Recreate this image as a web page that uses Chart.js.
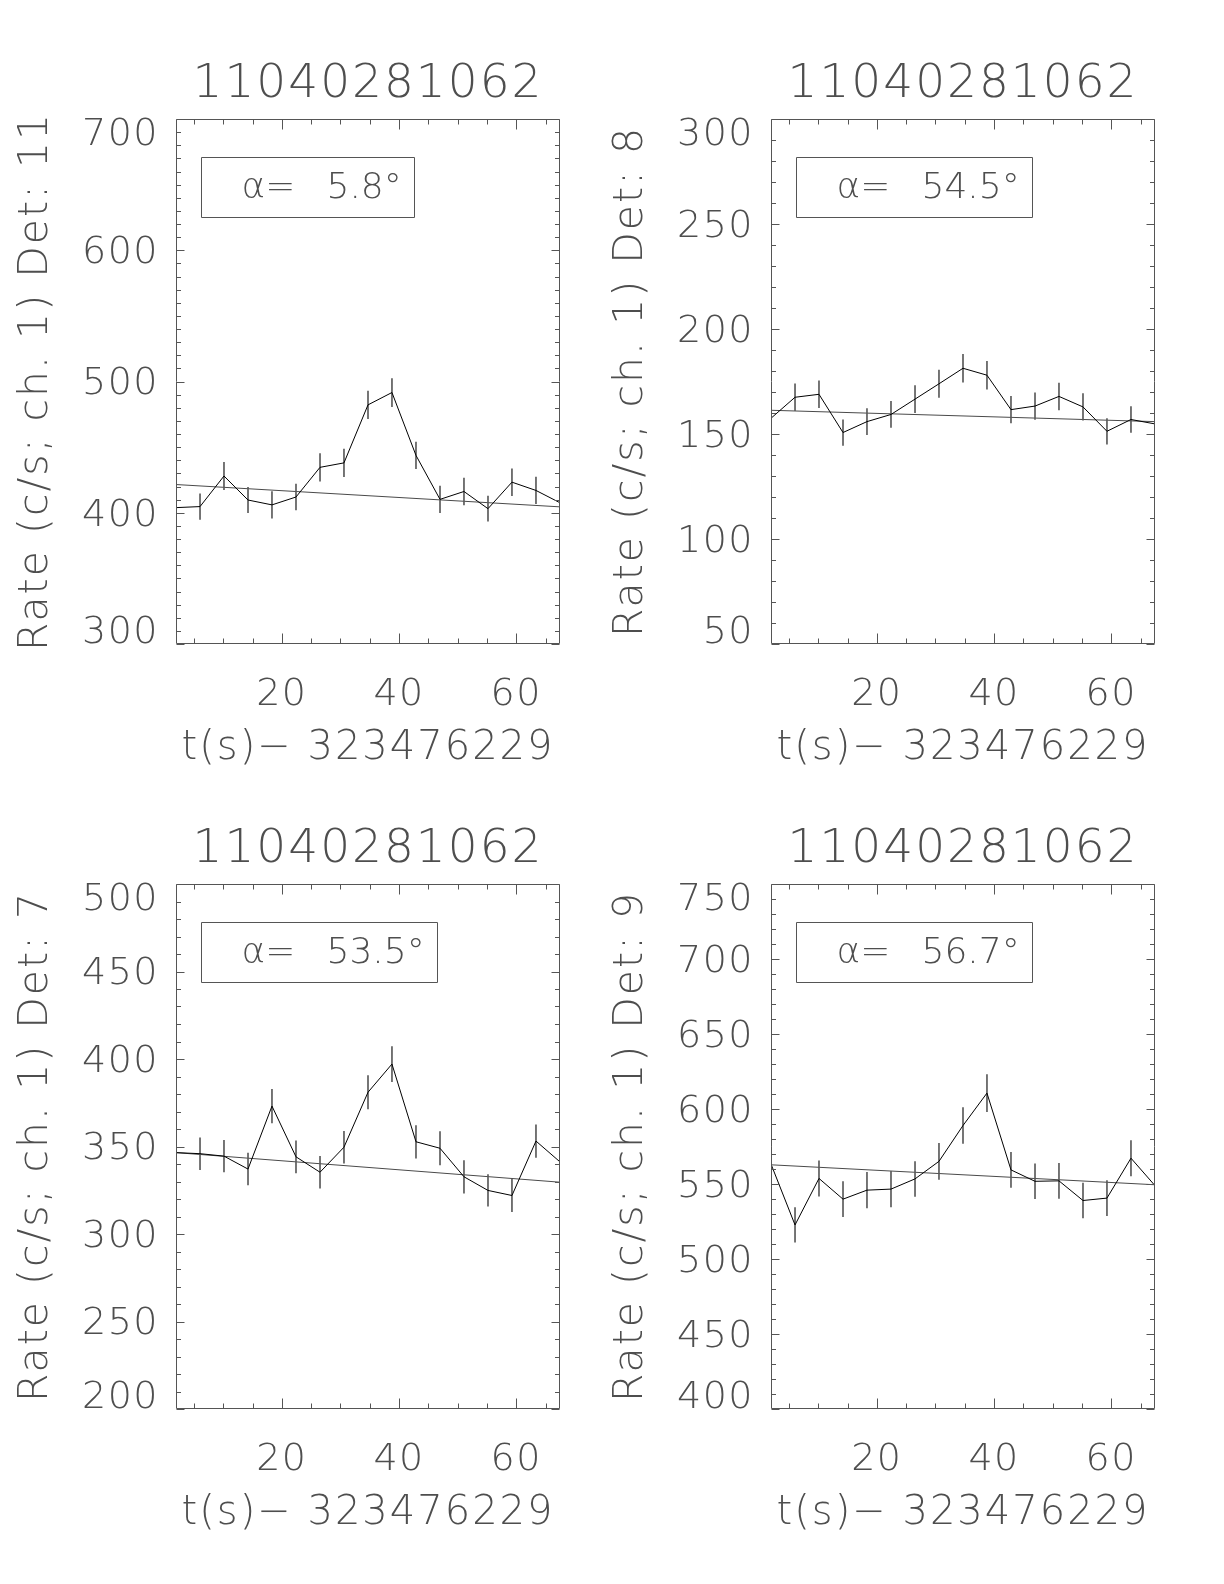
<!DOCTYPE html>
<html>
<head>
<meta charset="utf-8">
<script src="https://cdn.jsdelivr.net/npm/chart.js@4.4.1/dist/chart.umd.min.js"></script>
<style>
  html, body { margin: 0; padding: 0; background: #ffffff; }
  #page { position: relative; width: 1224px; height: 1584px; overflow: hidden; background: #ffffff; }
  canvas { position: absolute; }
</style>
</head>
<body>
<div id="page">
  <canvas id="c1" width="600" height="780" style="left:0px;top:0px"></canvas>
  <canvas id="c2" width="600" height="780" style="left:595px;top:0px"></canvas>
  <canvas id="c3" width="600" height="780" style="left:0px;top:765px"></canvas>
  <canvas id="c4" width="600" height="780" style="left:595px;top:765px"></canvas>
</div>
<script>
// ---------------- data ----------------
const chartTitle = '11040281062';
const xAxisTitle = 't(s)\u2212 323476229';
const xRange = [1.93, 67.47];
const timeOffsets = [1.93, 6.03, 10.12, 14.22, 18.31, 22.41, 26.51, 30.60, 34.70,
                     38.79, 42.89, 46.99, 51.08, 55.18, 59.27, 63.37, 67.47];

// Det 11 (top left)
const rateDet11 = [403.9, 404.7, 428.0, 409.7, 406.0, 412.0, 434.6, 438.0, 482.2,
                   491.6, 443.7, 410.2, 416.2, 403.1, 423.3, 417.0, 407.6];
const errDet11  = [9.9, 9.8, 10.5, 9.7, 10.2, 9.8, 10.5, 10.6, 10.5,
                   10.7, 10.1, 10.1, 10.2, 9.6, 10.2, 10.1, 9.9];
const fitDet11  = [421.5, 404.5];

// Det 8 (top right)
const rateDet8 = [157.5, 167.5, 168.9, 150.7, 155.9, 159.3, 166.6, 173.9, 181.3,
                  178.0, 161.6, 163.3, 167.9, 162.9, 151.3, 156.9, 154.8];
const errDet8  = [6.2, 6.4, 6.4, 6.1, 6.2, 6.2, 6.4, 6.5, 6.6,
                  6.6, 6.3, 6.3, 6.4, 6.3, 6.1, 6.2, 6.1];
const fitDet8  = [161.3, 155.9];

// Det 7 (bottom left)
const rateDet7 = [346.5, 345.9, 344.5, 337.1, 373.1, 344.1, 335.3, 349.6, 381.0,
                  397.1, 352.7, 349.0, 332.7, 324.9, 322.0, 353.1, 341.2];
const errDet7  = [9.2, 9.1, 9.0, 9.1, 9.6, 9.2, 9.1, 9.1, 9.5,
                  10.0, 9.3, 9.5, 9.3, 9.0, 9.3, 9.3, 9.1];
const fitDet7  = [346.5, 329.6];

// Det 9 (bottom right)
const rateDet9 = [563.3, 522.7, 553.7, 539.9, 545.9, 546.6, 553.4, 565.1, 589.0,
                  610.6, 559.4, 551.8, 552.1, 539.0, 540.6, 567.2, 548.9];
const errDet9  = [11.7, 11.5, 11.8, 11.7, 11.8, 11.8, 11.6, 12.0, 12.0,
                  12.4, 11.7, 11.6, 11.7, 11.6, 11.7, 11.8, 11.6];
const fitDet9  = [562.8, 549.5];

const yAxisTitles = ['Rate (c/s; ch. 1) Det: 11', 'Rate (c/s; ch. 1) Det: 8',
                     'Rate (c/s; ch. 1) Det: 7', 'Rate (c/s; ch. 1) Det: 9'];
const alphaPrefix = '\u03B1=';
const alphaValues = ['5.8\u00B0', '54.5\u00B0', '53.5\u00B0', '56.7\u00B0'];
const yMins = [300, 50, 200, 400];
const yMaxs = [700, 300, 500, 750];
const yMajorSteps = [100, 50, 50, 50];
const yMinorStep = 10;
const xMinorStep = 5;
const xMajorStep = 20;

// ---------------- style ----------------
const FONT = "'DejaVu Sans ExtraLight', 'DejaVu Sans', 'Noto Sans', sans-serif";
const WEIGHT = 200;
const TEXT = '#4e4e4e';
const FRAME = '#555555';
const TITLE_SPACING = '2px';
const LABEL_SPACING = '1.5px';

function isMult(v, step) {
  const r = Math.abs(v / step - Math.round(v / step));
  return r < 1e-6;
}

const idlFramePlugin = {
  id: 'idlFrame',
  beforeDraw(chart) {
    // titles (drawn before the datasets) use the wider spacing
    chart.ctx.letterSpacing = TITLE_SPACING;
  },
  afterDatasetsDraw(chart, args, opts) {
    const ctx = chart.ctx;
    const a = chart.chartArea;
    const xs = chart.scales.x, ys = chart.scales.y;
    const L = Math.round(a.left) + 0.5, R = Math.round(a.right) - 0.5;
    const T = Math.round(a.top) + 0.5, B = Math.round(a.bottom) - 0.5;
    ctx.save();
    ctx.strokeStyle = FRAME;
    ctx.lineWidth = 1;
    ctx.beginPath();
    ctx.rect(L, T, R - L, B - T);
    xs.ticks.forEach(t => {
      const px = Math.round(xs.getPixelForValue(t.value)) + 0.5;
      const len = isMult(t.value, opts.xMajor) ? 10 : 5;
      ctx.moveTo(px, B); ctx.lineTo(px, B - len);
      ctx.moveTo(px, T); ctx.lineTo(px, T + len);
    });
    ys.ticks.forEach(t => {
      const py = Math.round(ys.getPixelForValue(t.value)) + 0.5;
      const len = isMult(t.value, opts.yMajor) ? 8 : 4.5;
      ctx.moveTo(L, py); ctx.lineTo(L + len, py);
      ctx.moveTo(R, py); ctx.lineTo(R - len, py);
    });
    ctx.stroke();

    // annotation box with the angle
    ctx.letterSpacing = '0px';
    ctx.font = WEIGHT + ' 36px ' + FONT;
    const bx = Math.round(a.left + 25) + 0.5, by = Math.round(a.top + 38) + 0.5;
    const prefixX = bx + 40, valueX = bx + 125;
    const vw = ctx.measureText(opts.value).width;
    const bw = Math.round(valueX - bx + vw + 13), bh = 60;
    ctx.beginPath();
    ctx.rect(bx, by, bw, bh);
    ctx.stroke();
    ctx.fillStyle = TEXT;
    ctx.textAlign = 'left';
    ctx.textBaseline = 'middle';
    ctx.fillText(opts.prefix, prefixX, by + bh / 2 + 1);
    ctx.fillText(opts.value, valueX, by + bh / 2 + 1);
    ctx.restore();
    // tick labels are drawn after this hook (z = 1)
    ctx.letterSpacing = LABEL_SPACING;
  }
};

function buildChart(canvasId, rates, errors, fit, yMin, yMax, yMajor, yTitle, alphaValue) {
  const el = document.getElementById(canvasId);
  const tickFont = { family: FONT, weight: WEIGHT, size: 38, lineHeight: 1 };
  return new Chart(el, {
    type: 'line',
    data: {
      datasets: [
        {
          type: 'line',
          data: timeOffsets.map((t, i) => ({ x: t, y: rates[i] })),
          borderColor: '#000000', borderWidth: 1, pointRadius: 0, tension: 0, fill: false, order: 1
        },
        {
          type: 'bar',
          data: timeOffsets.map((t, i) => ({ x: t, y: [rates[i] - errors[i], rates[i] + errors[i]] })),
          backgroundColor: '#5a5a5a', borderWidth: 0, barThickness: 1, order: 2
        },
        {
          type: 'line',
          data: [{ x: xRange[0], y: fit[0] }, { x: xRange[1], y: fit[1] }],
          borderColor: '#4a4a4a', borderWidth: 1, pointRadius: 0, tension: 0, fill: false, order: 3
        }
      ]
    },
    options: {
      responsive: false,
      animation: false,
      devicePixelRatio: 1,
      events: [],
      layout: { padding: { left: 0, right: 40, top: 0, bottom: 0 } },
      plugins: {
        legend: { display: false },
        tooltip: { enabled: false },
        title: {
          display: true, text: chartTitle, fullSize: false, color: TEXT,
          font: { family: FONT, weight: WEIGHT, size: 47, lineHeight: 1 },
          padding: { top: 61, bottom: 11 }
        },
        idlFrame: { prefix: alphaPrefix, value: alphaValue, xMajor: xMajorStep, yMajor: yMajor }
      },
      scales: {
        x: {
          type: 'linear', min: xRange[0], max: xRange[1], offset: false,
          grid: { display: false, drawTicks: false }, border: { display: false },
          ticks: {
            z: 1,
            stepSize: xMinorStep, includeBounds: false, autoSkip: false,
            maxRotation: 0, minRotation: 0, padding: 32, color: TEXT, font: tickFont,
            callback: (v) => (isMult(v, xMajorStep) ? String(v) : '')
          },
          title: {
            display: true, text: xAxisTitle, color: TEXT,
            font: { family: FONT, weight: WEIGHT, size: 40, lineHeight: 1 },
            padding: { top: 0, bottom: 11 }
          },
          afterFit: (s) => { s.height = 136; }
        },
        y: {
          type: 'linear', min: yMin, max: yMax,
          grid: { display: false, drawTicks: false }, border: { display: false },
          ticks: {
            z: 1,
            stepSize: yMinorStep, autoSkip: false, padding: 17, labelOffset: 3, color: TEXT,
            font: { family: FONT, weight: WEIGHT, size: 38, lineHeight: '27px' },
            callback: (v, i, ticks) => {
              if (!isMult(v, yMajor)) return '';
              const s = String(v);
              if (i === 0) return [s, ''];
              if (i === ticks.length - 1) return ['', s];
              return s;
            }
          },
          title: {
            display: true, text: yTitle, color: TEXT,
            font: { family: FONT, weight: WEIGHT, size: 41, lineHeight: 1 },
            padding: { top: 16, bottom: 0 }
          },
          afterFit: (s) => { s.width = 176; }
        }
      }
    },
    plugins: [idlFramePlugin]
  });
}

buildChart('c1', rateDet11, errDet11, fitDet11, yMins[0], yMaxs[0], yMajorSteps[0], yAxisTitles[0], alphaValues[0]);
buildChart('c2', rateDet8,  errDet8,  fitDet8,  yMins[1], yMaxs[1], yMajorSteps[1], yAxisTitles[1], alphaValues[1]);
buildChart('c3', rateDet7,  errDet7,  fitDet7,  yMins[2], yMaxs[2], yMajorSteps[2], yAxisTitles[2], alphaValues[2]);
buildChart('c4', rateDet9,  errDet9,  fitDet9,  yMins[3], yMaxs[3], yMajorSteps[3], yAxisTitles[3], alphaValues[3]);
</script>
</body>
</html>
